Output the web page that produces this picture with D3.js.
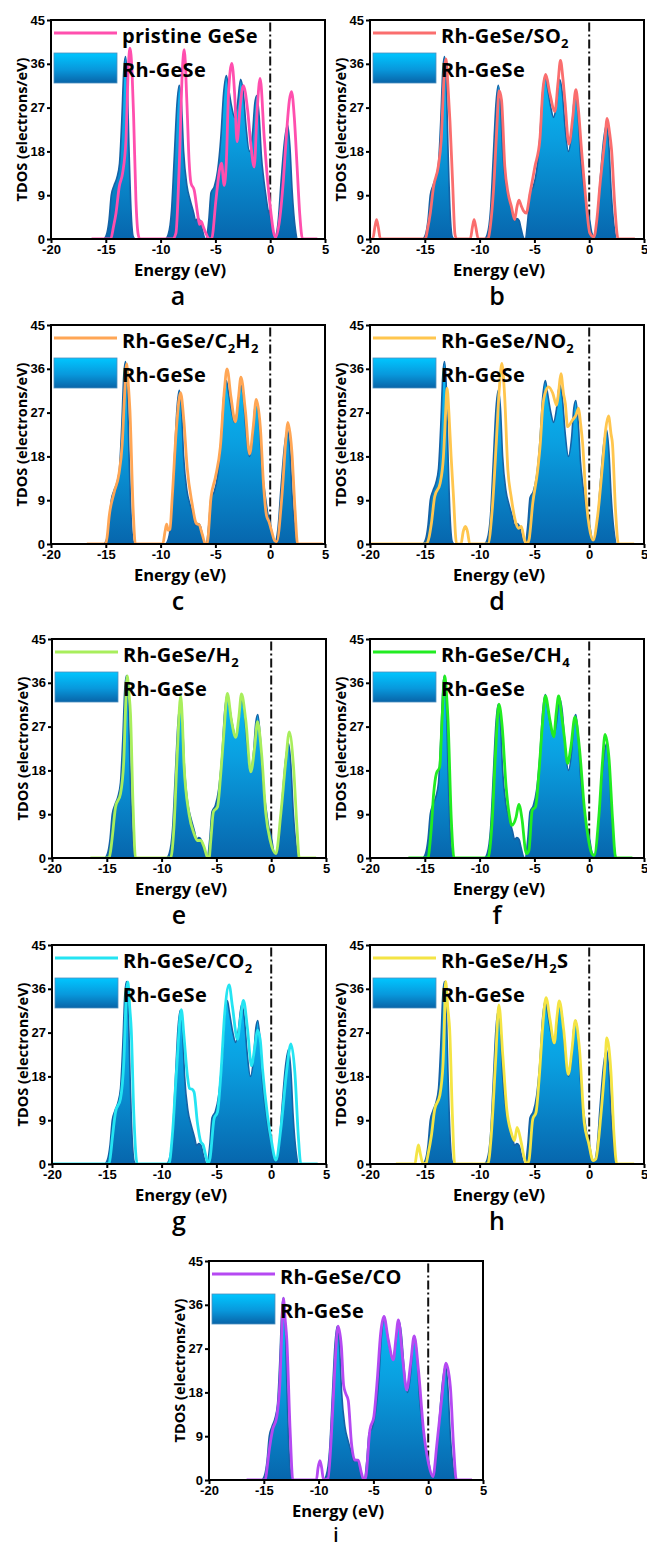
<!DOCTYPE html>
<html>
<head>
<meta charset="utf-8">
<script src="https://cdn.jsdelivr.net/npm/d3@7"></script>
<style>
  html, body { margin: 0; padding: 0; background: #fff; }
  svg { display: block; }
</style>
</head>
<body>
<div id="chart"></div>
<script>
// TDOS: [energy (eV), states (electrons/eV)]
var rhGeSe = [[-16.5,0],[-15.2,0],[-14.95,0.8],[-14.7,4],[-14.5,9],[-14.25,11],[-14.0,12.5],[-13.75,15.5],[-13.55,24],[-13.35,35],[-13.2,37.5],[-13.05,33],[-12.9,20],[-12.7,6],[-12.5,0.5],[-12.3,0],
  [-9.6,0],[-9.3,1],[-9.0,6],[-8.75,17],[-8.5,28],[-8.3,31.6],[-8.1,28],[-7.9,18],[-7.6,11],[-7.3,8],[-7.0,5.5],[-6.8,3.8],[-6.6,4.2],[-6.4,3.8],[-6.2,2],[-6.0,0.3],[-5.85,0],
  [-5.6,4],[-5.4,9.5],[-5.1,10.8],[-4.8,14],[-4.5,21],[-4.25,30],[-4.0,33.6],[-3.8,31],[-3.5,27],[-3.25,25],[-3.0,27.5],[-2.7,32.8],[-2.45,30],[-2.2,23],[-1.9,18],[-1.6,22],[-1.4,28],[-1.22,29.5],[-1.0,25],[-0.8,17],[-0.6,12.5],[-0.4,9],[-0.2,6],[0,4.5],[0.25,1.2],[0.45,0.6],[0.7,3],[1.0,12],[1.3,20],[1.58,23.5],[1.8,19],[2.0,10],[2.3,2],[2.5,0],[4.2,0]];

var pristineGeSe = [[-16.3,0],[-14.55,0],[-14.3,2.5],[-14.07,5.3],[-13.77,10.8],[-13.47,13.5],[-13.16,20.4],[-12.95,35],[-12.8,39.2],[-12.6,34],[-12.46,25],[-12.25,8],[-12.05,1],[-11.9,0],
  [-8.9,0],[-8.6,1.2],[-8.3,15],[-8.0,35.4],[-7.84,38.9],[-7.6,28],[-7.4,16],[-7.23,11.5],[-6.93,10],[-6.63,5.3],[-6.45,3],[-6.3,3.6],[-6.1,2.5],[-5.87,1.2],[-5.56,0],
  [-5.35,0],[-4.95,8],[-4.6,14.5],[-4.44,15.6],[-4.2,11],[-4.0,16],[-3.8,30],[-3.5,36.1],[-3.25,30],[-3.02,20],[-2.75,27],[-2.45,31.5],[-2.06,26.5],[-1.75,19],[-1.46,14.8],[-1.2,26],[-0.92,33],[-0.55,21],[-0.24,12],[0.06,5.5],[0.3,1.5],[0.5,0.3],[0.8,3],[1.2,12],[1.5,22],[1.75,28.5],[1.95,30.3],[2.2,25],[2.45,15],[2.7,5],[2.95,0],[4.3,0]];

var so2 = [[-20,0],[-19.75,0],[-19.55,2.5],[-19.4,4],[-19.25,2.5],[-19.05,0],[-14.95,0],[-14.75,2],[-14.5,5.3],[-14.2,10.8],[-13.77,14.9],[-13.5,20.4],[-13.25,33],[-13.07,37],[-12.9,32],[-12.7,24],[-12.46,11.5],[-12.25,1],[-12.1,0],
  [-10.85,0],[-10.65,2.5],[-10.5,4],[-10.35,2.5],[-10.12,0],
  [-9.25,0],[-9.0,3],[-8.75,9.4],[-8.45,21.8],[-8.22,30.5],[-8.0,28.6],[-7.7,14.9],[-7.4,9.4],[-7.1,6.7],[-6.8,4],[-6.6,6.5],[-6.41,8],[-6.2,6.8],[-6.0,5.8],[-5.75,5.3],[-5.4,9.4],[-4.95,14.9],[-4.5,20.4],[-4.25,30],[-3.97,33.8],[-3.6,30],[-3.13,26.2],[-2.85,32],[-2.62,36.7],[-2.4,33],[-2.2,28],[-1.85,19.5],[-1.5,25],[-1.22,30.7],[-1.0,27],[-0.7,18.3],[-0.3,8],[0.06,1.2],[0.43,0.4],[0.7,4],[0.97,10.8],[1.43,20.4],[1.64,24.8],[1.85,22],[2.04,18.3],[2.34,6.7],[2.64,0],[4.17,0]];

var c2h2 = [[-16.73,0],[-15.0,0],[-14.85,2],[-14.7,5.5],[-14.24,10.6],[-13.8,14.4],[-13.5,20.6],[-13.3,30],[-13.1,37],[-12.95,33],[-12.8,27.5],[-12.5,6.9],[-12.3,0],
  [-9.8,0],[-9.6,2.5],[-9.45,4.1],[-9.3,2.8],[-9.15,3],[-8.94,9.6],[-8.55,24],[-8.18,31.1],[-7.88,25.4],[-7.58,15.8],[-7.12,8.2],[-6.8,4.5],[-6.67,4.1],[-6.5,4],[-6.2,2],[-5.9,0],
  [-5.76,0],[-5.4,9.6],[-5.0,13.7],[-4.55,19.9],[-4.18,31.6],[-3.94,36],[-3.58,30.2],[-3.18,25.1],[-2.9,30],[-2.67,34.3],[-2.27,27.5],[-1.88,18.5],[-1.55,24],[-1.27,29.7],[-0.9,24],[-0.6,12],[-0.35,6],[-0.1,4.5],[0.15,2.5],[0.4,0.7],[0.6,0.5],[1.06,9.6],[1.45,22],[1.6,25],[1.97,19.2],[2.27,6.9],[2.5,0],[4.8,0]];

var no2 = [[-20,0],[-14.85,0],[-14.6,1.5],[-14.4,4.2],[-14.1,9.7],[-13.6,12.5],[-13.3,17.9],[-13.1,27],[-12.97,32],[-12.8,27],[-12.6,18],[-12.4,10.4],[-12.1,0],
  [-11.7,0],[-11.5,2.5],[-11.3,3.6],[-11.1,2.5],[-10.9,0],
  [-9.24,0],[-8.85,7],[-8.48,20.7],[-8.2,32],[-7.97,37.1],[-7.73,31],[-7.42,15.2],[-7.12,9.7],[-6.67,4.2],[-6.42,3.2],[-6.2,3.6],[-5.9,0.8],[-5.7,0],
  [-5.5,0.8],[-5.15,8.4],[-4.7,15.2],[-4.45,21],[-4.24,28.2],[-3.95,31.5],[-3.7,32.3],[-3.33,31],[-2.97,28.5],[-2.78,31.5],[-2.58,35],[-2.35,31],[-2.18,28.9],[-1.97,24.1],[-1.52,25.5],[-1.2,26.5],[-0.97,27.9],[-0.8,25],[-0.6,20.7],[-0.3,9.7],[0.0,3.6],[0.36,0.8],[0.76,5.6],[1.2,15.9],[1.5,23.5],[1.76,26.3],[2.0,22.5],[2.12,20.7],[2.4,7],[2.67,0],[4.1,0]];

var h2 = [[-16.5,0],[-14.8,0],[-14.65,1.5],[-14.5,4.3],[-14.2,10.5],[-13.75,13.2],[-13.45,20],[-13.3,30],[-13.14,37.4],[-12.98,34],[-12.84,29.7],[-12.6,10.5],[-12.38,0],
  [-9.18,0],[-8.87,6.4],[-8.57,21.5],[-8.26,33.3],[-8.1,28],[-7.96,19.4],[-7.5,9.1],[-7.04,5],[-6.74,3.6],[-6.43,3.6],[-6.13,2.3],[-5.82,0.2],
  [-5.67,0],[-5.5,4],[-5.27,9.5],[-4.9,10.5],[-4.6,17.4],[-4.3,26.3],[-4.0,33.8],[-3.63,28.3],[-3.23,24.8],[-2.95,29],[-2.71,33.7],[-2.32,28.3],[-1.86,17.7],[-1.5,23],[-1.25,28],[-0.88,21.5],[-0.49,9.1],[-0.09,3.6],[0.43,0.9],[0.88,9.1],[1.34,20.1],[1.65,25.9],[2.04,18.7],[2.35,6.4],[2.56,0],[4.1,0]];

var ch4 = [[-16.5,0],[-14.7,0],[-14.55,2.5],[-14.4,6.4],[-14.2,13],[-13.94,17.4],[-13.64,18.7],[-13.4,29.7],[-13.18,37.4],[-13.0,33],[-12.88,28.3],[-12.58,7.8],[-12.33,0],
  [-9.24,0],[-8.85,7.8],[-8.55,21.5],[-8.24,31.6],[-7.94,27],[-7.58,14.6],[-7.3,9],[-7.06,6.7],[-6.67,8.4],[-6.42,11],[-6.12,7.8],[-5.82,1.6],[-5.7,0.9],[-5.5,1.6],[-5.2,9.8],[-4.9,10.5],[-4.55,18.7],[-4.24,28.3],[-4.0,33.3],[-3.58,28.3],[-3.24,24.9],[-3.0,30],[-2.79,33.3],[-2.5,29],[-2.27,24.9],[-1.97,19.4],[-1.67,22.8],[-1.3,29],[-0.9,22.8],[-0.45,10.5],[-0.15,5],[0.24,0.9],[0.45,0.5],[0.9,9.1],[1.2,19.4],[1.45,25.4],[1.82,20.1],[2.12,8.4],[2.42,0],[3.94,0]];

var co2 = [[-20,0],[-14.8,0],[-14.65,2],[-14.5,5.2],[-14.2,10.7],[-13.75,13.4],[-13.45,20.9],[-13.25,33],[-13.08,37.4],[-12.9,32],[-12.77,27.7],[-12.53,10],[-12.23,0],
  [-9.33,0],[-9.02,5.9],[-8.63,19.5],[-8.2,31.7],[-7.96,26.3],[-7.65,18.2],[-7.45,15.5],[-7.25,15.4],[-7.04,14.8],[-6.74,8.6],[-6.43,4.6],[-6.2,3.9],[-5.98,1.8],[-5.76,0.1],
  [-5.58,1.2],[-5.21,9.3],[-4.9,10.7],[-4.6,18.2],[-4.24,31],[-3.84,36.8],[-3.54,32.4],[-3.08,25.6],[-2.8,30],[-2.53,33.6],[-2.16,27.7],[-1.8,20.2],[-1.5,24],[-1.25,27.5],[-1.0,25.5],[-0.79,19.5],[-0.34,10],[0.03,4.6],[0.43,0.8],[0.88,7.3],[1.43,19.5],[1.8,24.7],[2.16,18.8],[2.47,5.9],[2.71,0],[4.24,0]];

var h2s = [[-17.64,0],[-15.9,0],[-15.75,2],[-15.58,3.9],[-15.4,2],[-15.2,0.3],[-14.9,0],[-14.7,2],[-14.4,5.8],[-14.1,11.2],[-13.64,14],[-13.33,20.8],[-13.2,30],[-13.1,37.5],[-12.9,32],[-12.73,27.6],[-12.48,9.9],[-12.27,0],
  [-9.24,0],[-8.94,5.8],[-8.55,20.8],[-8.24,32.7],[-7.88,22.2],[-7.52,11.2],[-7.12,6.5],[-6.82,4.8],[-6.58,7.5],[-6.2,4.4],[-5.9,1],[-5.7,0],
  [-5.5,0.7],[-5.15,9.2],[-4.85,10.6],[-4.55,18.1],[-4.24,28.3],[-3.94,34.2],[-3.58,29.7],[-3.18,24.9],[-2.95,30],[-2.73,33.5],[-2.33,27.6],[-1.91,18.4],[-1.55,24],[-1.27,29.5],[-0.91,24.2],[-0.45,8.5],[-0.06,4.4],[0.36,0.7],[0.6,1],[1.06,9.9],[1.45,20.8],[1.6,25.9],[1.97,19.4],[2.27,5.8],[2.52,0],[4.1,0]];

var co = [[-16.57,0],[-14.86,0],[-14.7,2.5],[-14.5,6.2],[-14.2,10.3],[-13.82,13],[-13.52,20.5],[-13.35,31],[-13.21,37.3],[-13.05,33],[-12.9,28.8],[-12.6,10.3],[-12.35,0],
  [-10.2,0],[-10.05,2.5],[-9.88,4],[-9.72,2.5],[-9.55,0],[-9.14,0.3],[-8.84,8.9],[-8.53,22.6],[-8.23,31.6],[-7.92,27.4],[-7.72,19.5],[-7.53,17.8],[-7.3,16.4],[-7.0,7.5],[-6.7,4.1],[-6.39,4.1],[-6.09,1.4],[-5.87,0],
  [-5.69,0.7],[-5.32,10.3],[-4.96,13],[-4.65,20.5],[-4.34,30.1],[-4.04,33.6],[-3.64,28.8],[-3.18,24.7],[-2.95,29],[-2.72,32.9],[-2.32,24.7],[-1.96,18.5],[-1.6,24],[-1.28,29.6],[-0.89,22.6],[-0.43,10.3],[0.03,3.4],[0.43,0.7],[0.8,7.5],[1.25,17.1],[1.62,24],[2.02,19.2],[2.32,6.8],[2.57,0],[4.0,0]];

var panelLetters = ["a", "b", "c", "d", "e", "f", "g", "h", "i"];
var gasLabels = ["pristine GeSe", "Rh-GeSe/SO2", "Rh-GeSe/C2H2", "Rh-GeSe/NO2", "Rh-GeSe/H2",
                 "Rh-GeSe/CH4", "Rh-GeSe/CO2", "Rh-GeSe/H2S", "Rh-GeSe/CO"];
var gasSeries = [pristineGeSe, so2, c2h2, no2, h2, ch4, co2, h2s, co];
var baseLabel = "Rh-GeSe";
var xTicks = [-20, -15, -10, -5, 0, 5];
var yTicks = [0, 9, 18, 27, 36, 45];

// styling / layout
var gasColors = ["#ff4fae", "#fa6e6e", "#ffa655", "#ffc64e", "#a8ee5c", "#22ec22", "#24e4f2", "#f4e444", "#b549f2"];
var boxes = [
  {x: 51, y: 20}, {x: 370, y: 20},
  {x: 51, y: 325}, {x: 370, y: 325},
  {x: 52, y: 639}, {x: 370, y: 639},
  {x: 52, y: 945}, {x: 370, y: 945},
  {x: 209, y: 1261}
];
var pw = 274, ph = 219;

var svg = d3.select("#chart").append("svg")
  .attr("width", 647).attr("height", 1548);

var defs = svg.append("defs");
var grad = defs.append("linearGradient").attr("id", "fillGrad")
  .attr("x1", 0).attr("y1", 0).attr("x2", 0).attr("y2", 1);
grad.append("stop").attr("offset", "0%").attr("stop-color", "#08c4fb");
grad.append("stop").attr("offset", "45%").attr("stop-color", "#0a9fe0");
grad.append("stop").attr("offset", "100%").attr("stop-color", "#0766ad");

var sw = defs.append("linearGradient").attr("id", "swatchGrad")
  .attr("x1", 0).attr("y1", 0).attr("x2", 0).attr("y2", 1);
sw.append("stop").attr("offset", "0%").attr("stop-color", "#00c6ff");
sw.append("stop").attr("offset", "55%").attr("stop-color", "#0898dc");
sw.append("stop").attr("offset", "100%").attr("stop-color", "#0864a8");

function addLabel(sel, label) {
  // digits in chemical formulas become subscripts
  var parts = label.match(/\d+|\D+/g);
  var shifted = false;
  parts.forEach(function(p) {
    if (/^\d+$/.test(p)) {
      sel.append("tspan").attr("font-size", 13).attr("dy", 5).text(p);
      shifted = true;
    } else {
      var t = sel.append("tspan").text(p);
      if (shifted) { t.attr("dy", -5); shifted = false; }
    }
  });
}

boxes.forEach(function(b, i) {
  var g = svg.append("g").attr("transform", "translate(" + b.x + "," + b.y + ")");
  var x = d3.scaleLinear().domain([-20, 5]).range([0, pw]);
  var y = d3.scaleLinear().domain([0, 45]).range([ph, 0]);

  var clipId = "clip" + i;
  defs.append("clipPath").attr("id", clipId)
    .append("rect").attr("width", pw).attr("height", ph);

  var plot = g.append("g").attr("clip-path", "url(#" + clipId + ")");

  // Fermi level
  plot.append("line")
    .attr("x1", x(0)).attr("x2", x(0))
    .attr("y1", y(44.5)).attr("y2", y(0))
    .attr("stroke", "#111").attr("stroke-width", 2)
    .attr("stroke-dasharray", "9,3,2,3");

  var area = d3.area()
    .x(function(d) { return x(d[0]); })
    .y0(y(0))
    .y1(function(d) { return y(d[1]); })
    .curve(d3.curveMonotoneX);
  var line = d3.line()
    .x(function(d) { return x(d[0]); })
    .y(function(d) { return y(d[1]); })
    .curve(d3.curveMonotoneX);

  plot.append("path").datum(rhGeSe)
    .attr("d", area)
    .attr("fill", "url(#fillGrad)");
  plot.append("path").datum(rhGeSe)
    .attr("d", line)
    .attr("fill", "none")
    .attr("stroke", "#1462a6").attr("stroke-width", 1.6);

  plot.append("path").datum(gasSeries[i])
    .attr("d", line)
    .attr("fill", "none")
    .attr("stroke", gasColors[i]).attr("stroke-width", 2.8)
    .attr("stroke-linejoin", "round");

  // axes
  var ax = g.append("g").attr("transform", "translate(0," + ph + ")")
    .call(d3.axisBottom(x).tickValues(xTicks).tickSize(4).tickPadding(2)
      .tickFormat(function(d) { return String(d); }));
  var ay = g.append("g")
    .call(d3.axisLeft(y).tickValues(yTicks).tickSize(4).tickPadding(2)
      .tickFormat(function(d) { return String(d); }));
  [ax, ay].forEach(function(a) {
    a.select(".domain").remove();
    a.selectAll(".tick line").attr("stroke", "#000").attr("stroke-width", 2);
    a.selectAll(".tick text")
      .attr("fill", "#000")
      .attr("font-family", "'Liberation Sans', Arial, sans-serif")
      .attr("font-weight", "bold")
      .attr("font-size", 13);
  });

  g.append("rect")
    .attr("width", pw).attr("height", ph)
    .attr("fill", "none").attr("stroke", "#000").attr("stroke-width", 2);

  // axis titles
  g.append("text")
    .attr("transform", "translate(-24," + (ph / 2) + ") rotate(-90)")
    .attr("text-anchor", "middle")
    .attr("font-family", "'Open Sans', sans-serif")
    .attr("font-weight", 700).attr("font-size", 14.5)
    .text("TDOS (electrons/eV)");
  g.append("text")
    .attr("x", pw / 2 - 8).attr("y", ph + 37)
    .attr("text-anchor", "middle")
    .attr("font-family", "'Open Sans', sans-serif")
    .attr("font-weight", 700).attr("font-size", 16.5)
    .text("Energy (eV)");

  // panel letter (the last one sits against the bottom edge)
  var last = i === boxes.length - 1;
  g.append("text")
    .attr("x", pw / 2 - 10).attr("y", ph + (last ? 62 : 66))
    .attr("text-anchor", "middle")
    .attr("font-family", "'Open Sans', sans-serif")
    .attr("font-weight", 600).attr("font-size", last ? 19 : 25)
    .text(panelLetters[i]);

  // legend
  var lg = g.append("g");
  lg.append("line")
    .attr("x1", 3).attr("x2", 66).attr("y1", 13).attr("y2", 13)
    .attr("stroke", gasColors[i]).attr("stroke-width", 3);
  var t1 = lg.append("text")
    .attr("x", 71).attr("y", 23)
    .attr("font-family", "'Open Sans', sans-serif")
    .attr("font-weight", 700).attr("font-size", 20)
    .attr("letter-spacing", 0.3);
  addLabel(t1, gasLabels[i]);
  lg.append("rect")
    .attr("x", 3).attr("y", 33).attr("width", 63).attr("height", 30)
    .attr("fill", "url(#swatchGrad)")
    .attr("stroke", "#4d8fbf").attr("stroke-width", 0.8);
  lg.append("text")
    .attr("x", 71).attr("y", 57)
    .attr("font-family", "'Open Sans', sans-serif")
    .attr("font-weight", 700).attr("font-size", 20)
    .attr("letter-spacing", 0.3)
    .text(baseLabel);
});
</script>
</body>
</html>
